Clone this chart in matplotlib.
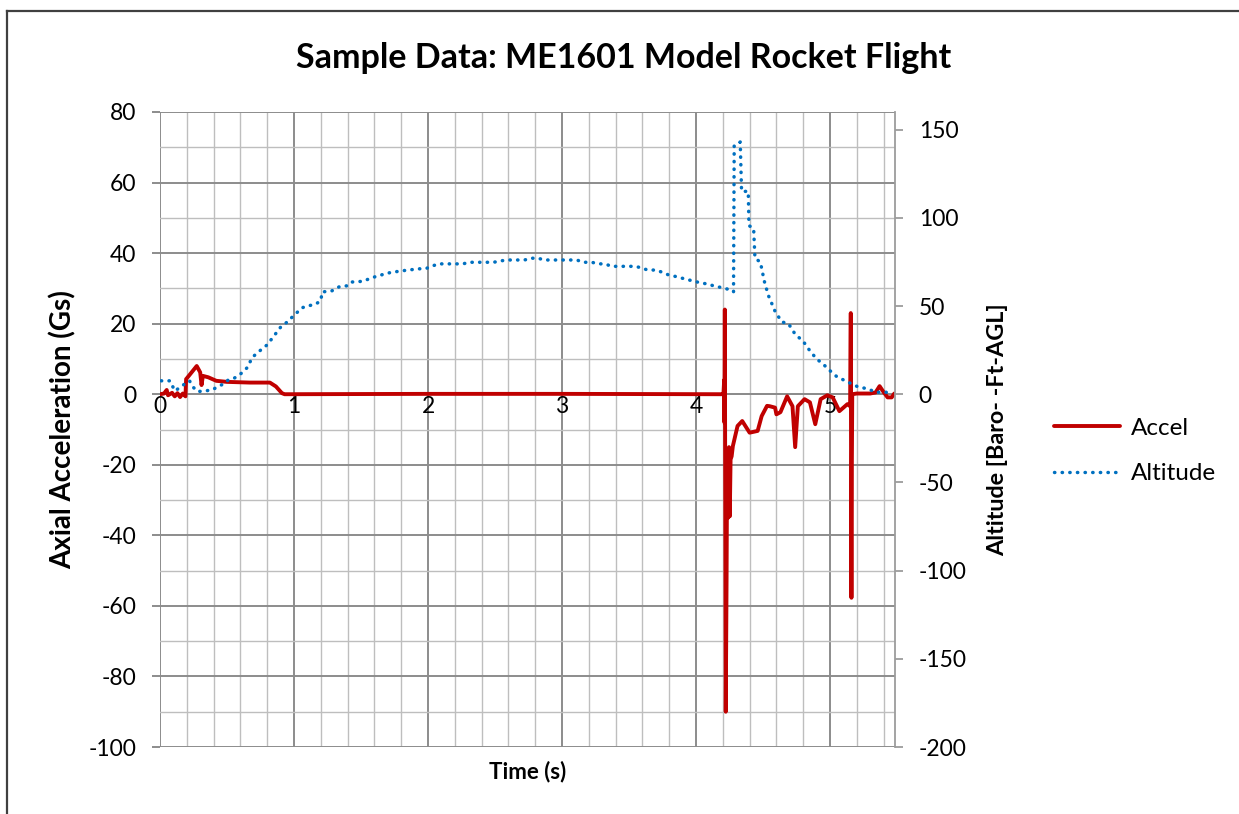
import matplotlib
matplotlib.use("Agg")
import matplotlib.pyplot as plt
from matplotlib.ticker import MultipleLocator
from matplotlib.lines import Line2D

plt.rcParams['font.family'] = ['Lato', 'DejaVu Sans']
plt.rcParams['axes.unicode_minus'] = False

# ---- data ----
accel_t = [0.00, 0.03, 0.05, 0.06, 0.09, 0.11, 0.13, 0.15, 0.17, 0.19, 0.195,
           0.20, 0.274, 0.30, 0.31, 0.32, 0.36, 0.42, 0.50, 0.67, 0.82, 0.865,
           0.91, 0.93, 2.0, 3.0, 4.19,
           4.205, 4.210, 4.212, 4.215, 4.222, 4.228, 4.232, 4.240, 4.246, 4.252,
           4.258, 4.266, 4.275, 4.31, 4.345, 4.40, 4.46, 4.49, 4.53, 4.55,
           4.59, 4.60, 4.63, 4.68, 4.72, 4.74, 4.76, 4.81, 4.85, 4.89, 4.93,
           4.98, 5.02, 5.07, 5.13, 5.150, 5.155, 5.158, 5.160, 5.163, 5.166,
           5.20, 5.30, 5.34, 5.37, 5.40, 5.43, 5.46, 5.48]
accel_g = [0.0, 0.2, 1.2, -0.3, 0.4, -0.6, 0.3, -0.8, 0.2, -0.6, 4.3,
           4.5, 8.0, 6.2, 2.6, 5.2, 4.8, 3.8, 3.5, 3.3, 3.3, 2.2,
           0.3, 0.0, 0.1, 0.1, 0.0,
           0.2, 4.0, -8.0, 24.0, -90.0, -53.0, -20.0, -35.0, -15.0, -34.6,
           -18.5, -17.6, -14.7, -9.0, -7.6, -10.9, -10.4, -6.2, -3.3, -3.4,
           -3.8, -5.7, -5.1, -0.6, -3.4, -15.0, -3.4, -1.4, -2.3, -8.5, -1.4,
           -0.3, -0.9, -4.8, -2.8, -3.4, 23.0, -36.0, -57.7, -20.0, 0.0,
           0.2, 0.2, 0.5, 2.3, 0.6, -0.9, -0.9, 0.2]

alt_t = [0.01, 0.075, 0.11, 0.15, 0.19, 0.22, 0.25, 0.28, 0.34, 0.39, 0.43,
         0.47, 0.51, 0.55, 0.60, 0.65, 0.69, 0.76, 0.80, 0.84, 0.90, 0.95,
         0.99, 1.06, 1.10, 1.16, 1.20, 1.21, 1.28, 1.34, 1.40, 1.43, 1.51,
         1.62, 1.72, 1.81, 1.92, 1.99, 2.04, 2.08, 2.26, 2.31, 2.49, 2.54,
         2.60, 2.72, 2.77, 2.82, 2.87, 3.11, 3.16, 3.22, 3.28, 3.32, 3.37,
         3.55, 3.60, 3.64, 3.70, 3.75, 3.79, 3.84, 3.90, 3.94, 3.99, 4.04,
         4.09, 4.14, 4.19, 4.24, 4.28, 4.285, 4.33, 4.34, 4.39, 4.395, 4.43,
         4.44, 4.48, 4.51, 4.54, 4.59, 4.64, 4.69, 4.74, 4.80, 4.85, 4.90,
         4.95, 4.99, 5.05, 5.13, 5.20, 5.28, 5.35, 5.40, 5.47]
alt_ft = [7.6, 7.6, 1.9, 3.8, 6.2, 7.6, 3.8, 1.5, 1.9, 2.5, 4.2,
          5.7, 8.1, 8.9, 11.4, 15.0, 21.0, 25.6, 28.0, 32.0, 38.0, 41.0,
          44.0, 49.0, 50.0, 51.0, 53.0, 58.0, 58.5, 61.0, 61.5, 63.6, 64.0,
          67.0, 69.0, 70.0, 71.0, 71.4, 72.9, 73.9, 73.9, 74.8, 74.8, 75.6,
          76.1, 76.1, 77.1, 77.1, 76.1, 76.1, 74.8, 74.8, 73.9, 73.9, 72.5,
          72.5, 71.4, 70.4, 70.4, 69.1, 67.8, 66.9, 65.7, 64.9, 64.0, 63.0,
          62.5, 61.2, 60.5, 59.5, 58.0, 141.0, 143.0, 115.0, 115.0, 95.6, 94.0,
          77.0, 75.0, 64.0, 56.0, 47.0, 41.0, 40.0, 34.0, 30.0, 24.6, 20.0,
          17.0, 14.0, 10.0, 7.0, 4.5, 3.0, 1.0, 1.5, 0.0]

x_ticks = [0, 1, 2, 3, 4, 5]
left_ticks = [-100, -80, -60, -40, -20, 0, 20, 40, 60, 80]
right_ticks = [-200, -150, -100, -50, 0, 50, 100, 150]

# ---- figure ----
W, H = 1239, 814
fig = plt.figure(figsize=(W / 100, H / 100), dpi=100)
L, R, T, B = 160, 895, 112, 747
ax = fig.add_axes([L / W, 1 - B / H, (R - L) / W, (B - T) / H])
ax2 = ax.twinx()

MAJ = '#8c8c8c'
MIN = '#bebebe'
FS = 16.5

ax.set_xlim(0, 5.485)
ax.set_ylim(-100, 80)
ax2.set_ylim(-200, 160)

ax.xaxis.set_major_locator(MultipleLocator(1))
ax.xaxis.set_minor_locator(MultipleLocator(0.2))
ax.yaxis.set_major_locator(MultipleLocator(20))
ax.yaxis.set_minor_locator(MultipleLocator(10))
ax.set_xticks(x_ticks)
ax.set_yticks(left_ticks)
ax2.set_yticks(right_ticks)

ax.grid(which='major', color=MAJ, lw=1.4, zorder=0)
ax.grid(which='minor', color=MIN, lw=1.0, zorder=0)
ax.set_axisbelow(True)

for s in ['top', 'left', 'right']:
    ax.spines[s].set_visible(False)
ax.spines['bottom'].set_position(('data', 0))
ax.spines['bottom'].set_color(MAJ)
ax.spines['bottom'].set_linewidth(1.4)
for s in ['top', 'left', 'bottom']:
    ax2.spines[s].set_visible(False)
ax2.spines['right'].set_color('#9c9c9c')
ax2.spines['right'].set_linewidth(1.3)

ax.tick_params(axis='x', which='both', length=0, pad=1, labelsize=FS)
ax.tick_params(axis='y', which='major', length=6, width=1.4, color=MAJ,
               pad=11, labelsize=FS)
ax.tick_params(axis='y', which='minor', length=0)
ax2.tick_params(axis='y', which='major', length=6, width=1.3, color='#9c9c9c',
                pad=11, labelsize=FS)
ax2.tick_params(axis='y', which='minor', length=0)

l1, = ax.plot(accel_t, accel_g, color='#c00000', lw=2.8, solid_joinstyle='round',
              solid_capstyle='round', label='Accel', zorder=3)
l2, = ax2.plot(alt_t, alt_ft, color='#0070c0', lw=2.5, linestyle=(0, (0.1, 2.1)),
               dash_capstyle='round', label='Altitude', zorder=3)

ax.set_ylabel('Axial Acceleration (Gs)', fontsize=20, fontweight='bold')
ax.yaxis.set_label_coords((77 - L) / (R - L), 0.5)
ax2.set_ylabel('Altitude [Baro- -Ft-AGL]', fontsize=16.8, fontweight='bold')
ax2.yaxis.set_label_coords((987 - L) / (R - L), 0.5)

fig.text((L + R) / 2 / W, 1 - 772 / H, 'Time (s)', fontsize=16, fontweight='bold',
         ha='center', va='center')
fig.text(624 / W, 1 - 58 / H, 'Sample Data: ME1601 Model Rocket Flight',
         fontsize=24.5, fontweight='bold', ha='center', va='center')

fig.legend(handles=[l1, l2], loc='center left',
           bbox_to_anchor=(1054 / W, 1 - 451 / H), frameon=False,
           fontsize=17.5, handlelength=2.7, handletextpad=0.45, labelspacing=1.0,
           borderpad=0, borderaxespad=0)

# outer chart border (top and left edges visible)
fig.add_artist(Line2D([7 / W, 7 / W], [0, 1 - 11 / H], transform=fig.transFigure,
                      color='#404040', lw=1.6))
fig.add_artist(Line2D([7 / W, 1], [1 - 11 / H, 1 - 11 / H], transform=fig.transFigure,
                      color='#404040', lw=1.6))

fig.savefig('out.png', dpi=100)
